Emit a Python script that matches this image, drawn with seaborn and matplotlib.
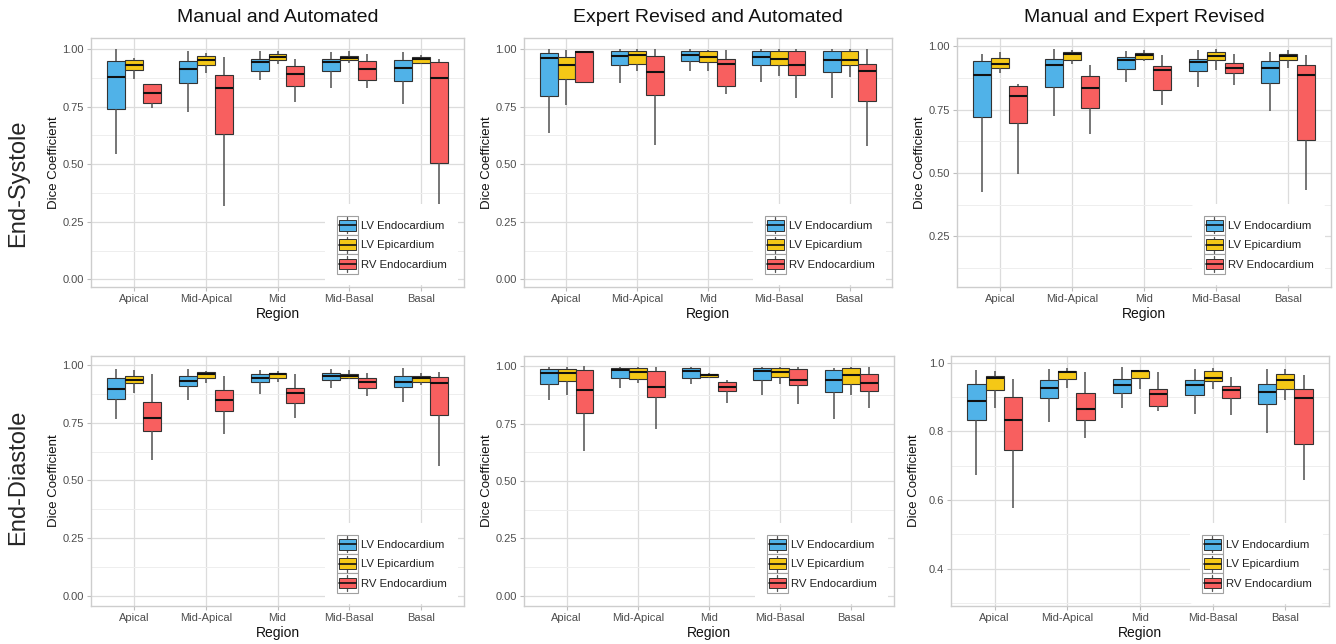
import numpy as np
import pandas as pd
import matplotlib
matplotlib.use("Agg")
import matplotlib.pyplot as plt
import seaborn as sns
from matplotlib.legend_handler import HandlerBase
from matplotlib.patches import Rectangle
from matplotlib.lines import Line2D

# ---------------- data (five-number summaries: min, q1, median, q3, max) ----------------
regions = ["Apical", "Mid-Apical", "Mid", "Mid-Basal", "Basal"]
structures = ["LV Endocardium", "LV Epicardium", "RV Endocardium"]
col_titles = ["Manual and Automated", "Expert Revised and Automated", "Manual and Expert Revised"]
row_titles = ["End-Systole", "End-Diastole"]
colors = ["#50B2E8", "#F5C816", "#F85F5F"]

# End-Systole, Manual and Automated
es_ma_lv_endo = [[0.543, 0.739, 0.880, 0.948, 1.000], [0.728, 0.851, 0.913, 0.948, 0.991],
                 [0.864, 0.906, 0.942, 0.959, 0.991], [0.833, 0.906, 0.945, 0.959, 0.986],
                 [0.762, 0.862, 0.916, 0.951, 0.986]]
es_ma_lv_epi = [[0.872, 0.909, 0.932, 0.954, 0.960], [0.894, 0.932, 0.952, 0.970, 0.981],
                [0.933, 0.952, 0.967, 0.977, 0.991], [0.938, 0.952, 0.961, 0.970, 0.991],
                [0.933, 0.941, 0.955, 0.965, 0.974]]
es_ma_rv_endo = [[0.745, 0.764, 0.810, 0.848, 0.849], [0.319, 0.630, 0.832, 0.886, 0.967],
                 [0.771, 0.839, 0.893, 0.928, 0.957], [0.829, 0.865, 0.912, 0.946, 0.977],
                 [0.326, 0.506, 0.875, 0.945, 0.959]]

# End-Systole, Expert Revised and Automated
es_ea_lv_endo = [[0.636, 0.797, 0.962, 0.984, 1.000], [0.854, 0.930, 0.971, 0.993, 1.000],
                 [0.904, 0.946, 0.974, 0.993, 1.000], [0.858, 0.930, 0.967, 0.991, 1.000],
                 [0.788, 0.899, 0.951, 0.991, 1.000]]
es_ea_lv_epi = [[0.759, 0.870, 0.932, 0.964, 0.996], [0.904, 0.935, 0.974, 0.993, 1.000],
                [0.904, 0.942, 0.967, 0.993, 0.996], [0.884, 0.930, 0.959, 0.991, 1.000],
                [0.878, 0.930, 0.951, 0.991, 1.000]]
es_ea_rv_endo = [[0.857, 0.857, 0.988, 0.991, 0.993], [0.583, 0.800, 0.901, 0.971, 1.000],
                 [0.807, 0.838, 0.935, 0.957, 0.996], [0.788, 0.887, 0.930, 0.991, 1.000],
                 [0.580, 0.775, 0.904, 0.933, 1.000]]

# End-Systole, Manual and Expert Revised
es_me_lv_endo = [[0.423, 0.721, 0.886, 0.941, 0.967], [0.725, 0.840, 0.924, 0.948, 0.987],
                 [0.860, 0.908, 0.944, 0.958, 0.980], [0.839, 0.902, 0.937, 0.951, 0.984],
                 [0.744, 0.856, 0.915, 0.941, 0.978]]
es_me_lv_epi = [[0.892, 0.913, 0.931, 0.954, 0.978], [0.928, 0.945, 0.967, 0.976, 0.984],
                [0.941, 0.951, 0.963, 0.971, 0.984], [0.906, 0.945, 0.961, 0.976, 0.990],
                [0.915, 0.945, 0.961, 0.970, 0.984]]
es_me_rv_endo = [[0.495, 0.698, 0.805, 0.841, 0.852], [0.653, 0.755, 0.833, 0.881, 0.925],
                 [0.767, 0.827, 0.904, 0.923, 0.965], [0.845, 0.892, 0.912, 0.932, 0.970],
                 [0.434, 0.629, 0.886, 0.925, 0.965]]

# End-Diastole, Manual and Automated
ed_ma_lv_endo = [[0.766, 0.854, 0.897, 0.945, 0.984], [0.847, 0.909, 0.932, 0.955, 0.984],
                 [0.873, 0.926, 0.945, 0.962, 0.981], [0.900, 0.934, 0.952, 0.967, 0.984],
                 [0.840, 0.905, 0.926, 0.952, 0.988]]
ed_ma_lv_epi = [[0.879, 0.921, 0.938, 0.952, 0.981], [0.922, 0.945, 0.962, 0.970, 0.977],
                [0.929, 0.945, 0.962, 0.967, 0.977], [0.941, 0.945, 0.955, 0.962, 0.981],
                [0.916, 0.929, 0.945, 0.955, 0.967]]
ed_ma_rv_endo = [[0.587, 0.714, 0.773, 0.842, 0.960], [0.702, 0.803, 0.847, 0.893, 0.955],
                 [0.772, 0.837, 0.880, 0.902, 0.960], [0.868, 0.902, 0.926, 0.944, 0.967],
                 [0.561, 0.785, 0.923, 0.948, 0.970]]

# End-Diastole, Expert Revised and Automated
ed_ea_lv_endo = [[0.851, 0.921, 0.971, 0.987, 0.997], [0.905, 0.950, 0.985, 0.994, 0.997],
                 [0.924, 0.950, 0.980, 0.993, 0.997], [0.873, 0.939, 0.978, 0.993, 0.997],
                 [0.771, 0.888, 0.942, 0.982, 0.993]]
ed_ea_lv_epi = [[0.873, 0.936, 0.971, 0.987, 0.997], [0.927, 0.943, 0.975, 0.993, 0.997],
                [0.950, 0.953, 0.961, 0.965, 0.971], [0.921, 0.953, 0.975, 0.993, 0.997],
                [0.873, 0.923, 0.964, 0.993, 0.997]]
ed_ea_rv_endo = [[0.629, 0.796, 0.895, 0.985, 1.000], [0.727, 0.866, 0.911, 0.978, 0.997],
                 [0.841, 0.892, 0.912, 0.931, 0.939], [0.834, 0.917, 0.942, 0.990, 0.997],
                 [0.818, 0.892, 0.928, 0.965, 0.997]]

# End-Diastole, Manual and Expert Revised
ed_me_lv_endo = [[0.672, 0.832, 0.889, 0.938, 0.977], [0.826, 0.898, 0.925, 0.950, 0.981],
                 [0.867, 0.911, 0.935, 0.953, 0.986], [0.851, 0.906, 0.935, 0.948, 0.982],
                 [0.795, 0.879, 0.913, 0.937, 0.982]]
ed_me_lv_epi = [[0.869, 0.920, 0.955, 0.962, 0.974], [0.927, 0.953, 0.971, 0.974, 0.984],
                [0.924, 0.955, 0.974, 0.976, 0.979], [0.924, 0.945, 0.956, 0.974, 0.984],
                [0.892, 0.923, 0.950, 0.966, 0.982]]
ed_me_rv_endo = [[0.577, 0.744, 0.833, 0.899, 0.953], [0.780, 0.834, 0.865, 0.911, 0.971],
                 [0.858, 0.874, 0.909, 0.923, 0.971], [0.846, 0.896, 0.921, 0.933, 0.959],
                 [0.657, 0.764, 0.896, 0.923, 0.964]]

# y-axis tick values per panel
ticks_full = [0.00, 0.25, 0.50, 0.75, 1.00]
ticks_es_me = [0.25, 0.50, 0.75, 1.00]
ticks_ed_me = [0.4, 0.6, 0.8, 1.0]

panel_series = [
    [(es_ma_lv_endo, es_ma_lv_epi, es_ma_rv_endo),
     (es_ea_lv_endo, es_ea_lv_epi, es_ea_rv_endo),
     (es_me_lv_endo, es_me_lv_epi, es_me_rv_endo)],
    [(ed_ma_lv_endo, ed_ma_lv_epi, ed_ma_rv_endo),
     (ed_ea_lv_endo, ed_ea_lv_epi, ed_ea_rv_endo),
     (ed_me_lv_endo, ed_me_lv_epi, ed_me_rv_endo)],
]

# ---------------- styling / layout ----------------
sns.set_style("white")
plt.rcParams["font.family"] = ["Liberation Sans", "DejaVu Sans"]

W, H = 1336, 644
fig = plt.figure(figsize=(W / 100, H / 100), dpi=100)


def rect(l, t, r, b):
    return [l / W, 1 - b / H, (r - l) / W, (b - t) / H]


axes_px = [
    [(91, 38, 464, 287), (524, 38, 892, 287), (957, 38, 1331, 287)],
    [(91, 356, 464, 606), (524, 356, 894, 606), (951, 356, 1329, 606)],
]
ylims = [
    [(-0.033, 1.048), (-0.033, 1.048), (0.05, 1.032)],
    [(-0.045, 1.040), (-0.045, 1.045), (0.291, 1.019)],
]
yticks = [[ticks_full, ticks_full, ticks_es_me], [ticks_full, ticks_full, ticks_ed_me]]
yfmt = [["{:.2f}", "{:.2f}", "{:.2f}"], ["{:.2f}", "{:.2f}", "{:.1f}"]]


class BoxKeyHandler(HandlerBase):
    def __init__(self, color):
        super().__init__()
        self.color = color

    def create_artists(self, legend, orig_handle, xdescent, ydescent, width, height, fontsize, trans):
        x0, y0 = -xdescent, -ydescent
        bg = Rectangle((x0, y0), width, height, facecolor="white", edgecolor="#A0A0A0",
                       linewidth=0.8, transform=trans)
        cx = x0 + width / 2
        wl = Line2D([cx, cx], [y0 + height * 0.08, y0 + height * 0.92], color="#555555",
                    lw=0.9, transform=trans)
        bx = Rectangle((x0 + width * 0.1, y0 + height * 0.22), width * 0.8, height * 0.56,
                       facecolor=self.color, edgecolor="#333333", linewidth=0.7, transform=trans)
        md = Line2D([x0 + width * 0.1, x0 + width * 0.9], [y0 + height / 2] * 2, color="#111111",
                    lw=1.2, transform=trans)
        return [bg, wl, bx, md]


for ri in range(2):
    for ci in range(3):
        l, t, r, b = axes_px[ri][ci]
        ax = fig.add_axes(rect(l, t, r, b))
        rows = []
        for sname, stats in zip(structures, panel_series[ri][ci]):
            for reg, five in zip(regions, stats):
                for v in five:
                    rows.append((reg, sname, v))
        df = pd.DataFrame(rows, columns=["Region", "Structure", "Dice"])
        sns.boxplot(data=df, x="Region", y="Dice", hue="Structure", order=regions,
                    hue_order=structures, palette=colors, saturation=1, whis=(0, 100),
                    width=0.75, gap=0, linecolor="#333333", linewidth=0.8, fliersize=0,
                    legend=False, ax=ax,
                    medianprops={"color": "#111111", "linewidth": 1.5},
                    whiskerprops={"color": "#505050", "linewidth": 1.1},
                    capprops={"visible": False})
        maj = yticks[ri][ci]
        step = maj[1] - maj[0]
        minor = [v - step / 2 for v in maj] + [maj[-1] + step / 2]
        ax.set_yticks(maj)
        ax.set_yticklabels([yfmt[ri][ci].format(v) for v in maj])
        ax.set_yticks(minor, minor=True)
        ax.set_xticks(range(len(regions)))
        ax.set_xticklabels(regions)
        ax.set_xlim(-0.6, 4.6)
        ax.set_ylim(*ylims[ri][ci])
        ax.grid(True, which="major", color="#DCDCDC", linewidth=0.9)
        ax.grid(True, which="minor", axis="y", color="#EEEEEE", linewidth=0.7)
        ax.set_axisbelow(True)
        for sp in ax.spines.values():
            sp.set_color("#CDCDCD")
            sp.set_linewidth(1.0)
        ax.tick_params(which="major", length=3, width=0.8, color="#BDBDBD", labelsize=8,
                       labelcolor="#4D4D4D", pad=2, bottom=True, left=True)
        ax.tick_params(which="minor", length=0)
        ax.set_xlabel("Region", fontsize=10, color="#111111", labelpad=2)
        ax.set_ylabel("Dice Coefficient", fontsize=9.5, color="#111111")
        ax.yaxis.set_label_coords(-31 / (r - l), 0.5)

        handles = [Rectangle((0, 0), 1, 1, facecolor=c) for c in colors]
        hmap = {h: BoxKeyHandler(c) for h, c in zip(handles, colors)}
        leg = ax.legend(handles, structures, handler_map=hmap, loc="lower right",
                        bbox_to_anchor=(1 - 6 / (r - l), 2 / (b - t)), fontsize=8.2,
                        frameon=True, facecolor="white", edgecolor="none", framealpha=1,
                        handlelength=1.85, handleheight=2.23, labelspacing=0,
                        handletextpad=0.25, borderpad=1.0, borderaxespad=0)
        leg.get_frame().set_linewidth(0)
        for txt in leg.get_texts():
            txt.set_color("#222222")

        if ri == 0:
            fig.text((l + r) / 2 / W, 1 - 17 / H, col_titles[ci], fontsize=14,
                     ha="center", va="center", color="#111111")

fig.text(18 / W, 1 - 183 / H, row_titles[0], rotation=90, fontsize=17, ha="center", va="center")
fig.text(18 / W, 1 - 477 / H, row_titles[1], rotation=90, fontsize=17, ha="center", va="center")

fig.savefig("out.png", dpi=100)
